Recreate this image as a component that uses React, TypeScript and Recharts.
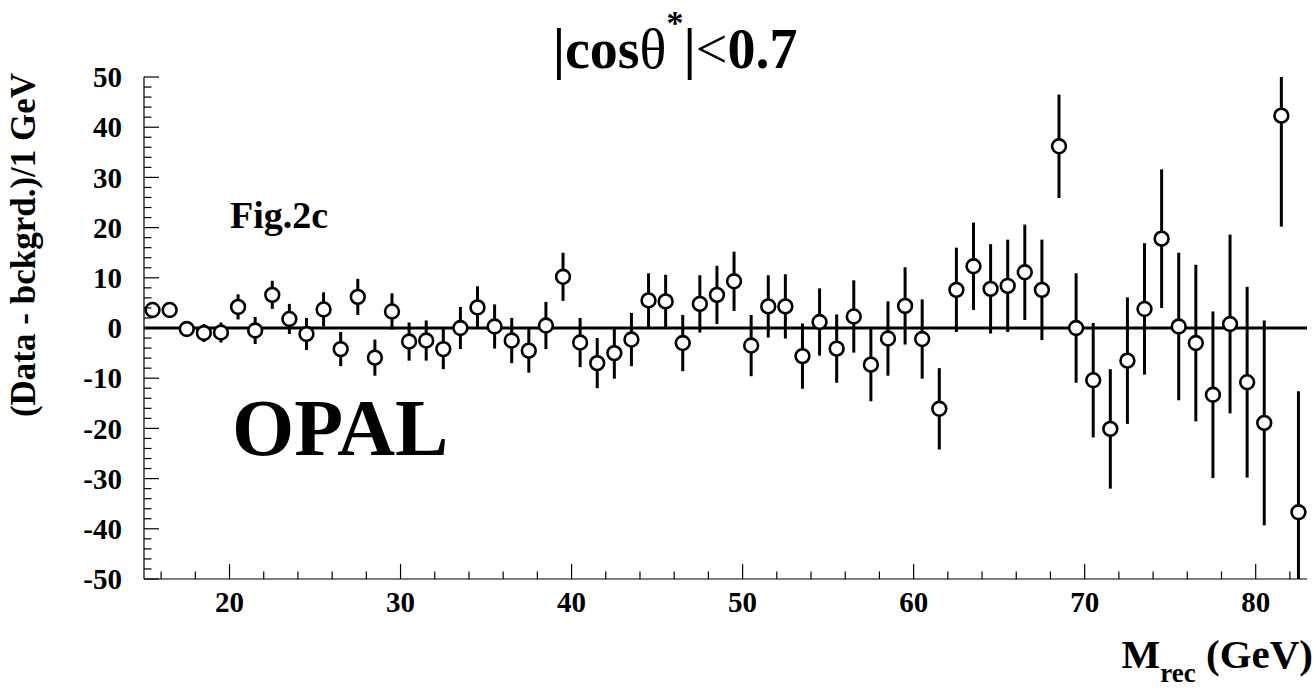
import React from 'react';
import { ScatterChart, Scatter, XAxis, YAxis, ErrorBar, ReferenceLine } from 'recharts';

// bin centres (GeV)
const massBins = [
  15.5, 16.5, 17.5, 18.5, 19.5, 20.5, 21.5, 22.5, 23.5, 24.5, 25.5, 26.5, 27.5, 28.5, 29.5, 30.5, 31.5,
  32.5, 33.5, 34.5, 35.5, 36.5, 37.5, 38.5, 39.5, 40.5, 41.5, 42.5, 43.5, 44.5, 45.5, 46.5, 47.5, 48.5,
  49.5, 50.5, 51.5, 52.5, 53.5, 54.5, 55.5, 56.5, 57.5, 58.5, 59.5, 60.5, 61.5, 62.5, 63.5, 64.5, 65.5,
  66.5, 67.5, 68.5, 69.5, 70.5, 71.5, 72.5, 73.5, 74.5, 75.5, 76.5, 77.5, 78.5, 79.5, 80.5, 81.5, 82.5,
];

// data - background per bin
const excess = [
  3.6, 3.6, -0.2, -1.0, -0.9, 4.2, -0.5, 6.6, 1.8, -1.2, 3.7, -4.2, 6.2, -5.9, 3.3, -2.7, -2.5,
  -4.2, 0.0, 4.1, 0.3, -2.5, -4.5, 0.5, 10.2, -2.9, -7.0, -5.0, -2.3, 5.5, 5.3, -3.0, 4.8, 6.6,
  9.3, -3.5, 4.3, 4.3, -5.6, 1.2, -4.1, 2.3, -7.3, -2.1, 4.4, -2.2, -16.1, 7.6, 12.3, 7.8, 8.4,
  11.1, 7.6, 36.2, 0.0, -10.4, -20.1, -6.5, 3.8, 17.8, 0.3, -3.0, -13.3, 0.8, -10.8, -18.9, 42.3, -36.7,
];

// statistical error per bin
const errors = [
  1.2, 1.2, 1.4, 1.8, 2.0, 2.5, 2.7, 2.8, 3.0, 3.2, 3.4, 3.4, 3.6, 3.6, 3.6, 3.8, 4.0,
  4.0, 4.2, 4.2, 4.4, 4.5, 4.4, 4.7, 4.8, 4.9, 5.0, 5.1, 5.3, 5.4, 5.3, 5.6, 5.7, 5.8,
  5.9, 6.1, 6.2, 6.4, 6.5, 6.7, 6.8, 7.2, 7.3, 7.4, 7.7, 7.9, 8.1, 8.4, 8.7, 8.9, 9.2,
  9.5, 10.0, 10.3, 10.9, 11.4, 11.9, 12.6, 13.1, 13.8, 14.7, 15.6, 16.6, 17.8, 19.0, 20.4, 22.1, 24.1,
];

const xTicks = [
  16, 18, 20, 22, 24, 26, 28, 30, 32, 34, 36, 38, 40, 42, 44, 46, 48, 50, 52, 54, 56, 58, 60,
  62, 64, 66, 68, 70, 72, 74, 76, 78, 80, 82,
];
const xLabels = [20, 30, 40, 50, 60, 70, 80];

const yTicks = [
  -50, -48, -46, -44, -42, -40, -38, -36, -34, -32, -30, -28, -26, -24, -22, -20, -18, -16, -14,
  -12, -10, -8, -6, -4, -2, 0, 2, 4, 6, 8, 10, 12, 14, 16, 18, 20, 22, 24, 26, 28, 30, 32, 34,
  36, 38, 40, 42, 44, 46, 48, 50,
];
const yLabels = [-50, -40, -30, -20, -10, 0, 10, 20, 30, 40, 50];

const points = massBins.map((m, i) => ({ m, v: excess[i], err: errors[i] }));

const FONT = '"Liberation Serif", "Times New Roman", serif';
const MAJOR = 15;
const MINOR = 7.5;

// plot frame in page pixels
const W = 1316;
const H = 690;
const PLOT = { left: 144, top: 77, right: 1307, bottom: 579 };

const BottomTick = (props: any) => {
  const { x, y, payload } = props;
  const major = xLabels.includes(payload.value);
  return (
    <g>
      <line x1={x} y1={y} x2={x} y2={y - (major ? MAJOR : MINOR)} stroke="#000" strokeWidth={1.2} />
      {major && (
        <text x={x} y={y + 33} textAnchor="middle" fontFamily={FONT} fontWeight="bold" fontSize={29} fill="#000">
          {payload.value}
        </text>
      )}
    </g>
  );
};

const TopTick = (props: any) => {
  const { x, y, payload } = props;
  const major = xLabels.includes(payload.value);
  return <line x1={x} y1={y} x2={x} y2={y + (major ? MAJOR : MINOR)} stroke="#000" strokeWidth={1.2} />;
};

const LeftTick = (props: any) => {
  const { x, y, payload } = props;
  const major = yLabels.includes(payload.value);
  return (
    <g>
      <line x1={x} y1={y} x2={x + (major ? MAJOR : MINOR)} y2={y} stroke="#000" strokeWidth={1.2} />
      {major && (
        <text x={x - 22} y={y} dy="0.35em" textAnchor="end" fontFamily={FONT} fontWeight="bold" fontSize={29} fill="#000">
          {payload.value}
        </text>
      )}
    </g>
  );
};

const RightTick = (props: any) => {
  const { x, y, payload } = props;
  const major = yLabels.includes(payload.value);
  return <line x1={x} y1={y} x2={x - (major ? MAJOR : MINOR)} y2={y} stroke="#000" strokeWidth={1.2} />;
};

const OpenCircle = (props: any) => (
  <circle cx={props.cx} cy={props.cy} r={6.9} fill="#fff" stroke="#000" strokeWidth={2.6} />
);

export default function App() {
  return (
    <div style={{ position: 'absolute', left: 0, top: 0, width: W, height: H, background: '#fff' }}>
      <style>{'.recharts-errorBar, .recharts-errorBars { clip-path: url(#plotClip); }'}</style>
      <svg width={0} height={0} style={{ position: 'absolute' }}>
        <defs>
          <clipPath id="plotClip" clipPathUnits="userSpaceOnUse">
            <rect
              x={PLOT.left}
              y={PLOT.top}
              width={PLOT.right - PLOT.left}
              height={PLOT.bottom - PLOT.top}
            />
          </clipPath>
        </defs>
      </svg>
      <ScatterChart width={W} height={H} margin={{ top: 77, right: 9, bottom: 71, left: 0 }}>
        <XAxis
          dataKey="m"
          type="number"
          domain={[15, 83]}
          allowDataOverflow
          ticks={xTicks}
          interval={0}
          tickSize={0}
          tickMargin={0}
          tickLine={false}
          tick={<BottomTick />}
          height={40}
          axisLine={{ stroke: '#000', strokeWidth: 1.2 }}
        />
        <XAxis
          xAxisId="top"
          orientation="top"
          type="number"
          domain={[15, 83]}
          allowDataOverflow
          ticks={xTicks}
          interval={0}
          tickSize={0}
          tickMargin={0}
          tickLine={false}
          tick={<TopTick />}
          height={0}
          axisLine={{ stroke: '#000', strokeWidth: 1.2 }}
        />
        <YAxis
          dataKey="v"
          type="number"
          domain={[-50, 50]}
          allowDataOverflow
          ticks={yTicks}
          interval={0}
          tickSize={0}
          tickMargin={0}
          tickLine={false}
          tick={<LeftTick />}
          width={144}
          axisLine={{ stroke: '#000', strokeWidth: 1.2 }}
        />
        <YAxis
          yAxisId="right"
          orientation="right"
          type="number"
          domain={[-50, 50]}
          allowDataOverflow
          ticks={yTicks}
          interval={0}
          tickSize={0}
          tickMargin={0}
          tickLine={false}
          tick={<RightTick />}
          width={0}
          axisLine={{ stroke: '#000', strokeWidth: 1.2 }}
        />
        <Scatter data={points} shape={<OpenCircle />} isAnimationActive={false}>
          <ErrorBar dataKey="err" direction="y" width={0} stroke="#000" strokeWidth={3} />
        </Scatter>
        <ReferenceLine y={0} stroke="#000" strokeWidth={3} />
      </ScatterChart>
      <svg
        width={W}
        height={H}
        style={{ position: 'absolute', left: 0, top: 0, pointerEvents: 'none' }}
        fontFamily={FONT}
        fontWeight="bold"
        fill="#000"
      >
        <text x={675} y={68} textAnchor="middle" fontSize={56}>
          |cos<tspan fontWeight="normal">θ</tspan>
          <tspan fontSize={34} dy={-34}>*</tspan>
          <tspan dy={34}>|</tspan>
          <tspan fontWeight="normal">&lt;</tspan>0.7
        </text>
        <text transform="translate(35,245) rotate(-90)" textAnchor="middle" fontSize={35}>
          (Data - bckgrd.)/1 GeV
        </text>
        <text x={230} y={228} fontSize={38}>
          Fig.2c
        </text>
        <text x={232} y={455} fontSize={80}>
          OPAL
        </text>
        <text x={1313} y={668} textAnchor="end" fontSize={41}>
          M<tspan fontSize={27} dy={14}>rec</tspan>
          <tspan dy={-14}> (GeV)</tspan>
        </text>
      </svg>
    </div>
  );
}
